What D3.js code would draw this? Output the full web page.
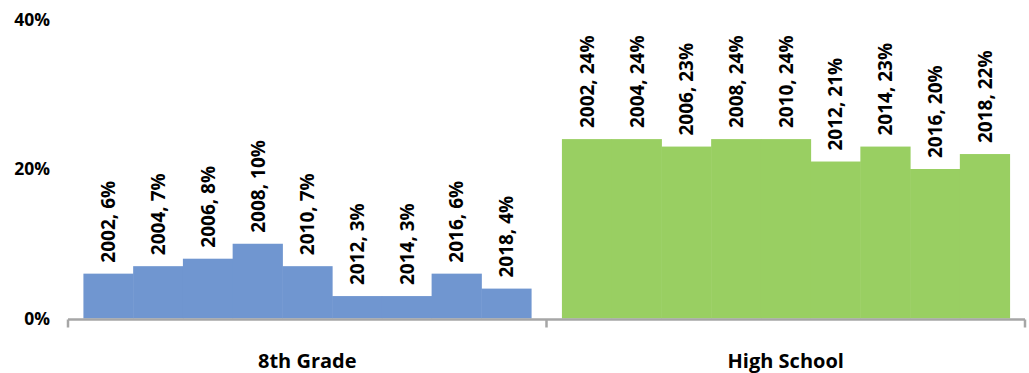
<!DOCTYPE html>
<html>
<head>
<meta charset="utf-8">
<script src="https://cdn.jsdelivr.net/npm/d3@7"></script>
<style>
  body { margin: 0; background: #fff; }
  svg text { font-family: "Open Sans", sans-serif; font-weight: bold; fill: #000; }
</style>
</head>
<body>
<svg id="chart" width="1029" height="373"></svg>
<script>
// data
const groups = ["8th Grade", "High School"];
const years = ["2002", "2004", "2006", "2008", "2010", "2012", "2014", "2016", "2018"];
const grade8 = [6, 7, 8, 10, 7, 3, 3, 6, 4];
const highSchool = [24, 24, 23, 24, 24, 21, 23, 20, 22];
const yTicks = [0, 20, 40];
const groupColors = ["#7096d0", "#99cf62"];

let svg = d3.select("#chart");

let x0 = d3.scaleBand()
  .domain(groups)
  .range([68, 1025])
  .padding(0);

let x1 = d3.scaleBand()
  .domain(years)
  .range([0, x0.bandwidth()])
  .paddingInner(0)
  .paddingOuter(0.31);

let y = d3.scaleLinear()
  .domain([0, 40])
  .range([318.5, 19.5]);

let series = [grade8, highSchool];

// y labels
let yAxis = d3.axisLeft(y)
  .tickValues(yTicks)
  .tickSize(0)
  .tickPadding(0)
  .tickFormat(d => d + "%");

svg.append("g")
  .attr("transform", "translate(50,0)")
  .call(yAxis)
  .call(g => g.select(".domain").remove())
  .selectAll("text")
    .style("font-size", "17.5px")
    .style("font-family", "'Open Sans', sans-serif")
    .style("font-weight", "bold")
    .attr("fill", "#000");

// bars
groups.forEach((grp, gi) => {
  let g = svg.append("g")
    .attr("transform", "translate(" + x0(grp) + ",0)");

  g.selectAll("rect")
    .data(series[gi])
    .enter()
    .append("rect")
      .attr("x", (d, i) => x1(years[i]))
      .attr("y", d => y(d))
      .attr("width", x1.bandwidth() + 0.5)
      .attr("height", d => y(0) - y(d))
      .attr("fill", groupColors[gi]);

  g.selectAll("text.lbl")
    .data(series[gi])
    .enter()
    .append("text")
      .attr("class", "lbl")
      .attr("transform", (d, i) => "translate(" + (x1(years[i]) + x1.bandwidth() / 2 + 7) + "," + (y(d) - 11) + ") rotate(-90)")
      .style("font-size", "19px")
      .text((d, i) => years[i] + ", " + d + "%");
});

// bottom axis line with group separators
let axisY = y(0) + 1;
svg.append("line")
  .attr("x1", x0.range()[0])
  .attr("x2", x0.range()[1])
  .attr("y1", axisY)
  .attr("y2", axisY)
  .attr("stroke", "#a6a6a6")
  .attr("stroke-width", 2.5);

let tickXs = groups.map(d => x0(d)).concat([x0.range()[1]]);
svg.selectAll("line.tick")
  .data(tickXs)
  .enter()
  .append("line")
    .attr("class", "tick")
    .attr("x1", d => d)
    .attr("x2", d => d)
    .attr("y1", axisY)
    .attr("y2", axisY + 8)
    .attr("stroke", "#a6a6a6")
    .attr("stroke-width", 2.5);

// category labels
svg.selectAll("text.cat")
  .data(groups)
  .enter()
  .append("text")
    .attr("class", "cat")
    .attr("x", d => x0(d) + x0.bandwidth() / 2)
    .attr("y", 368)
    .attr("text-anchor", "middle")
    .style("font-size", "20px")
    .text(d => d);
</script>
</body>
</html>
